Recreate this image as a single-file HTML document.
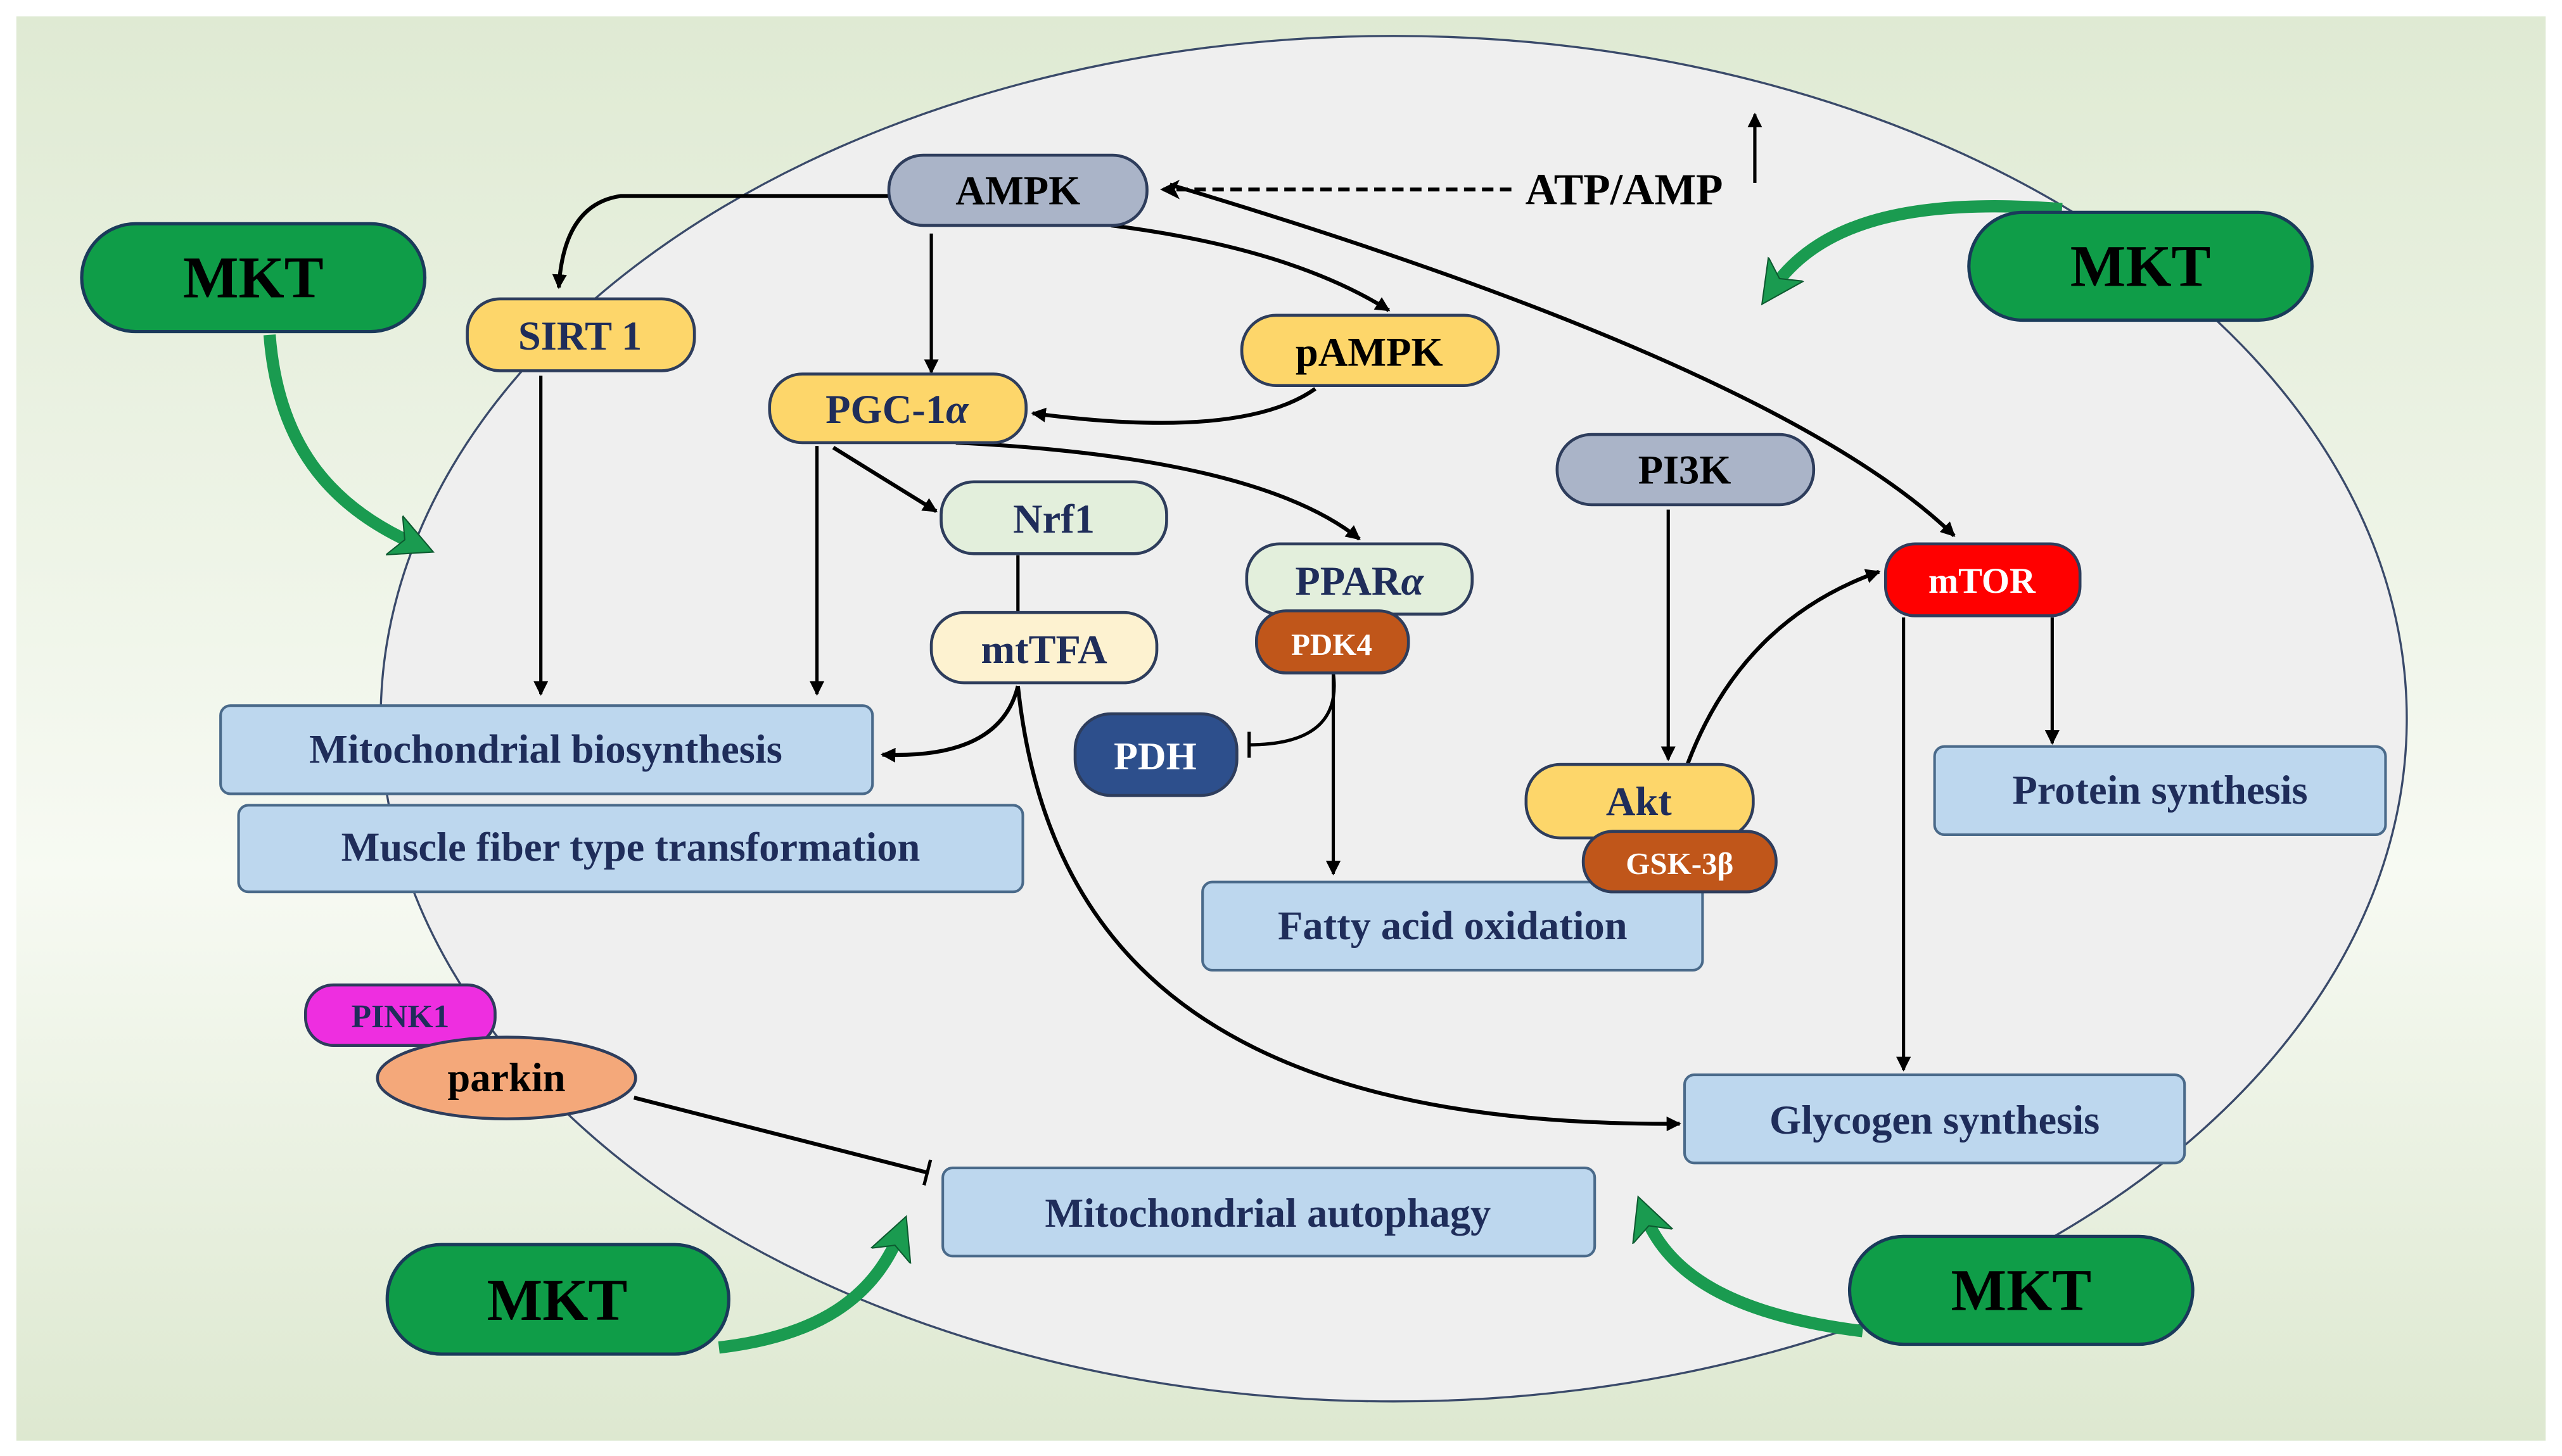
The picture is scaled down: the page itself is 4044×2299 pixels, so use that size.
<!DOCTYPE html>
<html><head><meta charset="utf-8"><style>
html,body{margin:0;padding:0;background:#fff;}
svg{display:block;}
text{font-family:"Liberation Serif",serif;font-weight:bold;}
</style></head><body>
<svg width="4044" height="2299" viewBox="0 0 1568 891.4" preserveAspectRatio="none" xmlns="http://www.w3.org/2000/svg">
<defs>
<linearGradient id="bg" x1="0" y1="0" x2="0" y2="1">
<stop offset="0" stop-color="#dfead3"/><stop offset="0.6" stop-color="#f7faf3"/><stop offset="1" stop-color="#dde8d0"/>
</linearGradient>
<marker id="ar" markerWidth="9" markerHeight="9" refX="8" refY="4.5" orient="auto" markerUnits="userSpaceOnUse"><path d="M0,0 L9,4.5 L0,9 Z" fill="#000"/></marker>
<marker id="ab" markerWidth="12" markerHeight="12" refX="10" refY="6" orient="auto" markerUnits="userSpaceOnUse"><path d="M0,0 L12,6 L0,12 L3,6 Z" fill="#000"/></marker>
<marker id="tb" markerWidth="4" markerHeight="16" refX="2" refY="8" orient="auto" markerUnits="userSpaceOnUse"><rect x="0.5" y="0" width="2" height="16" fill="#000"/></marker>
<marker id="ga" markerWidth="30" markerHeight="30" refX="16" refY="15" orient="auto" markerUnits="userSpaceOnUse"><path d="M0,2 L26,15 L0,28 L7,15 Z" fill="#1a9b50" stroke="#0d5a30" stroke-width="0.8"/></marker>
</defs>
<rect x="0" y="0" width="1568" height="891.4" fill="#fff"/>
<rect x="10" y="10" width="1548" height="872" fill="url(#bg)"/>
<ellipse cx="853" cy="440" rx="620" ry="418" fill="#efefef" stroke="#3a4a6a" stroke-width="1.3"/>

<g fill="none" stroke="#1a9b50" stroke-width="7.5">
<path d="M165,205 C170,270 200,310 256,334" marker-end="url(#ga)"/>
<path d="M1262,128 C1160,120 1110,140 1084,178" marker-end="url(#ga)"/>
<path d="M440,825 C500,818 535,795 551,754" marker-end="url(#ga)"/>
<path d="M1140,815 C1060,805 1020,780 1006,742" marker-end="url(#ga)"/>
</g>

<g fill="none" stroke="#000" stroke-width="2.4">
<path d="M925,116 L712,116" stroke-dasharray="7,4" marker-end="url(#ab)"/>
<path d="M1074,112 L1074,70" marker-end="url(#ar)" stroke-width="2"/>
<path d="M544,120 L380,120 Q345,125 342,176" marker-end="url(#ar)"/>
<path d="M570,143 L570,228" marker-end="url(#ar)" stroke-width="2"/>
<path d="M680,138 Q790,152 850,190" marker-end="url(#ar)"/>
<path d="M716,113 Q1090,225 1196,328" marker-end="url(#ar)"/>
<path d="M805,238 Q760,270 632,253" marker-end="url(#ar)"/>
<path d="M510,274 L573,313" marker-end="url(#ar)"/>
<path d="M585,271 Q770,280 832,330" marker-end="url(#ar)"/>
<path d="M500,273 L500,425" marker-end="url(#ar)" stroke-width="2"/>
<path d="M331,230 L331,425" marker-end="url(#ar)" stroke-width="2"/>
<path d="M623,340 L623,375" stroke-width="2"/>
<path d="M623,420 Q612,465 540,462" marker-end="url(#ar)"/>
<path d="M623,420 C640,580 740,690 1028,688" marker-end="url(#ar)"/>
<path d="M816,412 Q822,456 764,456" marker-end="url(#tb)" stroke-width="2"/>
<path d="M816,412 L816,535" marker-end="url(#ar)" stroke-width="2"/>
<path d="M1021,312 L1021,465" marker-end="url(#ar)" stroke-width="2"/>
<path d="M1032,470 Q1065,380 1150,350" marker-end="url(#ar)"/>
<path d="M1165,378 L1165,655" marker-end="url(#ar)" stroke-width="2"/>
<path d="M1256,378 L1256,455" marker-end="url(#ar)" stroke-width="2"/>
<path d="M388,672 L568,718" marker-end="url(#tb)"/>
</g>

<g fill="#0f9d48" stroke="#1a3a5a" stroke-width="2">
<rect x="50" y="137" width="210" height="66" rx="33"/>
<rect x="1205" y="130" width="210" height="66" rx="33"/>
<rect x="237" y="762" width="209" height="67" rx="33"/>
<rect x="1132" y="757" width="210" height="66" rx="33"/>
</g>
<g font-size="36" text-anchor="middle" fill="#000">
<text x="155" y="182">MKT</text>
<text x="1310" y="175">MKT</text>
<text x="341" y="808">MKT</text>
<text x="1237" y="802">MKT</text>
</g>

<g stroke="#2e3d5c" stroke-width="1.8">
<rect x="544" y="95" width="158" height="43" rx="21" fill="#aab4c8"/>
<rect x="286" y="183" width="139" height="44" rx="20" fill="#fdd66a"/>
<rect x="471" y="229" width="157" height="42" rx="20" fill="#fdd66a"/>
<rect x="760" y="193" width="157" height="43" rx="21" fill="#fdd66a"/>
<rect x="576" y="295" width="138" height="44" rx="20" fill="#e3efdc"/>
<rect x="763" y="333" width="138" height="43" rx="20" fill="#e3efdc"/>
<rect x="769" y="374" width="93" height="38" rx="18" fill="#c0561a"/>
<rect x="570" y="375" width="138" height="43" rx="20" fill="#fdf2d0"/>
<rect x="658" y="437" width="99" height="50" rx="22" fill="#2d4f8c"/>
<rect x="953" y="266" width="157" height="43" rx="21" fill="#aab4c8"/>
<rect x="1154" y="333" width="119" height="44" rx="18" fill="#ff0000"/>
<rect x="934" y="468" width="139" height="45" rx="21" fill="#fdd66a"/>
<rect x="187" y="603" width="116" height="37" rx="17" fill="#ee2ee0"/>
<ellipse cx="310" cy="660" rx="79" ry="25" fill="#f4a87a"/>
</g>
<g stroke="#4a6a8a" stroke-width="1.6" fill="#bdd7ee">
<rect x="135" y="432" width="399" height="54" rx="6"/>
<rect x="146" y="493" width="480" height="53" rx="6"/>
<rect x="736" y="540" width="306" height="54" rx="6"/>
<rect x="1184" y="457" width="276" height="54" rx="6"/>
<rect x="1031" y="658" width="306" height="54" rx="6"/>
<rect x="577" y="715" width="399" height="54" rx="6"/>
</g>
<rect x="969" y="509" width="118" height="37" rx="18" fill="#c0561a" stroke="#2e3d5c" stroke-width="1.8"/>

<g text-anchor="middle" font-size="25">
<text x="623" y="125" fill="#000">AMPK</text>
<text x="994" y="125" fill="#000" font-size="27">ATP/AMP</text>
<text x="355" y="214" fill="#1f2d5a">SIRT 1</text>
<text x="549" y="259" fill="#1f2d5a">PGC-1<tspan font-style="italic">α</tspan></text>
<text x="838" y="224" fill="#000">pAMPK</text>
<text x="645" y="326" fill="#1f2d5a">Nrf1</text>
<text x="832" y="364" fill="#1f2d5a">PPAR<tspan font-style="italic">α</tspan></text>
<text x="815" y="401" fill="#fff" font-size="19">PDK4</text>
<text x="639" y="406" fill="#1f2d5a">mtTFA</text>
<text x="707" y="471" fill="#fff" font-size="24">PDH</text>
<text x="1031" y="296" fill="#000">PI3K</text>
<text x="1213" y="363" fill="#fff" font-size="22">mTOR</text>
<text x="1003" y="499" fill="#1f2d5a">Akt</text>
<text x="1028" y="535" fill="#fff" font-size="19">GSK-3β</text>
<text x="245" y="629" fill="#1f2d5a" font-size="20">PINK1</text>
<text x="310" y="668" fill="#000">parkin</text>
<text x="334" y="467" fill="#1f2d5a">Mitochondrial biosynthesis</text>
<text x="386" y="527" fill="#1f2d5a">Muscle fiber type transformation</text>
<text x="889" y="575" fill="#1f2d5a">Fatty acid oxidation</text>
<text x="1322" y="492" fill="#1f2d5a">Protein synthesis</text>
<text x="1184" y="694" fill="#1f2d5a">Glycogen synthesis</text>
<text x="776" y="751" fill="#1f2d5a">Mitochondrial autophagy</text>
</g>
</svg>
</body></html>
